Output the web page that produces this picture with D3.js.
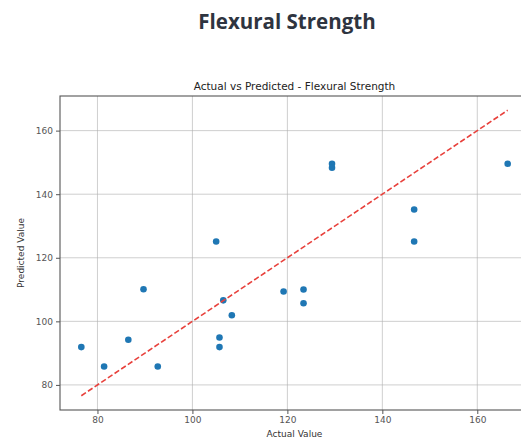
<!DOCTYPE html>
<html>
<head>
<meta charset="utf-8">
<script src="https://cdn.jsdelivr.net/npm/d3@7"></script>
<style>
  html, body { margin: 0; padding: 0; background: #fff; overflow: hidden; }
  svg { display: block; }
</style>
</head>
<body>
<svg id="chart" width="521" height="444"></svg>
<script>
// Test-set observations: measured vs model-predicted flexural strength
const actualValues = [76.6, 81.4, 86.5, 89.7, 92.7, 105.0, 105.7, 105.7, 106.5, 108.3,
                      119.2, 123.4, 123.4, 129.4, 129.4, 146.7, 146.7, 166.4];
const predictedValues = [91.9, 85.8, 94.2, 110.1, 85.8, 125.1, 94.9, 91.9, 106.6, 101.9,
                         109.4, 110.0, 105.7, 149.6, 148.3, 135.2, 125.1, 149.6];
const xTicks = [80, 100, 120, 140, 160];
const yTicks = [80, 100, 120, 140, 160];

const pageTitle = "Flexural Strength";
const plotTitle = "Actual vs Predicted - Flexural Strength";
const xLabel = "Actual Value";
const yLabel = "Predicted Value";

const svg = d3.select("#chart");
const W = 521, H = 444;
const margin = { left: 60, top: 96, right: -8, bottom: 34 };
const pw = W - margin.left - margin.right;
const ph = H - margin.top - margin.bottom;

// Axis limits with 5% padding around the data (including the ideal-fit line)
const aMin = d3.min(actualValues), aMax = d3.max(actualValues);
const xMin = aMin, xMax = aMax;
const yMin = Math.min(d3.min(predictedValues), aMin), yMax = Math.max(d3.max(predictedValues), aMax);
const xPad = (xMax - xMin) * 0.05, yPad = (yMax - yMin) * 0.05;

const x = d3.scaleLinear().domain([xMin - xPad, xMax + xPad]).range([0, pw]);
const y = d3.scaleLinear().domain([yMin - yPad, yMax + yPad]).range([ph, 0]);

const font = "DejaVu Sans, sans-serif";

// Page heading
svg.append("text")
  .attr("x", 287).attr("y", 29)
  .attr("text-anchor", "middle")
  .attr("font-family", "Open Sans, sans-serif")
  .attr("font-weight", 700)
  .attr("font-size", 20.5)
  .attr("fill", "#2e3440")
  .text(pageTitle);

const g = svg.append("g").attr("transform", `translate(${margin.left},${margin.top})`);

// Grid
g.append("g").selectAll("line").data(xTicks).join("line")
  .attr("x1", d => x(d)).attr("x2", d => x(d))
  .attr("y1", 0).attr("y2", ph)
  .attr("stroke", "#b0b0b0").attr("stroke-width", 1).attr("opacity", 0.6);
g.append("g").selectAll("line").data(yTicks).join("line")
  .attr("x1", 0).attr("x2", pw)
  .attr("y1", d => y(d)).attr("y2", d => y(d))
  .attr("stroke", "#b0b0b0").attr("stroke-width", 1).attr("opacity", 0.6);

// Axes
const xAxis = g.append("g").attr("transform", `translate(0,${ph})`)
  .call(d3.axisBottom(x).tickValues(xTicks).tickSize(4).tickPadding(3));
const yAxis = g.append("g")
  .call(d3.axisLeft(y).tickValues(yTicks).tickSize(4).tickPadding(3));
[xAxis, yAxis].forEach(a => {
  a.select(".domain").remove();
  a.selectAll("line").attr("stroke", "#555");
  a.selectAll("text").attr("font-family", font).attr("font-size", 9).attr("fill", "#555");
});

// Frame
g.append("rect").attr("x", 0).attr("y", 0).attr("width", pw).attr("height", ph)
  .attr("fill", "none").attr("stroke", "#555").attr("stroke-width", 1.1);

// Points
g.append("g").selectAll("circle").data(actualValues.map((a, i) => [a, predictedValues[i]]))
  .join("circle")
  .attr("cx", d => x(d[0])).attr("cy", d => y(d[1]))
  .attr("r", 3.3)
  .attr("fill", "#1f77b4");

// Ideal prediction line
g.append("line")
  .attr("x1", x(aMin)).attr("y1", y(aMin))
  .attr("x2", x(aMax)).attr("y2", y(aMax))
  .attr("stroke", "#e8413c").attr("stroke-width", 1.6)
  .attr("stroke-dasharray", "5.5,2.5");

// Plot title and axis labels
svg.append("text")
  .attr("x", margin.left + pw / 2).attr("y", 90)
  .attr("text-anchor", "middle")
  .attr("font-family", font).attr("font-size", 10.5).attr("fill", "#222")
  .text(plotTitle);

svg.append("text")
  .attr("x", margin.left + pw / 2).attr("y", 437)
  .attr("text-anchor", "middle")
  .attr("font-family", font).attr("font-size", 9).attr("fill", "#333")
  .text(xLabel);

svg.append("text")
  .attr("transform", `translate(24,${margin.top + ph / 2}) rotate(-90)`)
  .attr("text-anchor", "middle")
  .attr("font-family", font).attr("font-size", 9).attr("fill", "#333")
  .text(yLabel);
</script>
</body>
</html>
